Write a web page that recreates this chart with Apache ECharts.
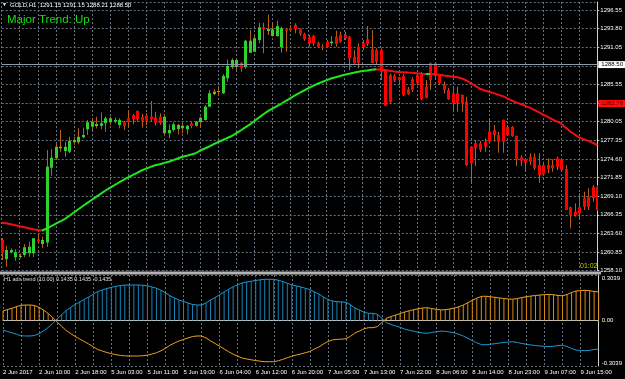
<!DOCTYPE html>
<html>
<head>
<meta charset="utf-8">
<script src="https://cdn.jsdelivr.net/npm/echarts@6/dist/echarts.min.js"></script>
<style>
  html, body { margin: 0; padding: 0; background: #000; }
  #main { width: 625px; height: 379px; }
</style>
</head>
<body>
<div id="main"></div>
<script>
// bottom axis labels, one every 8 bars
const timeLabels = ['2 Jun 2017', '2 Jun 10:00', '2 Jun 18:00', '5 Jun 03:00', '5 Jun 11:00', '5 Jun 19:00',
  '6 Jun 04:00', '6 Jun 12:00', '6 Jun 20:00', '7 Jun 05:00', '7 Jun 13:00', '7 Jun 22:00',
  '8 Jun 06:00', '8 Jun 14:00', '8 Jun 23:00', '9 Jun 07:00', '9 Jun 15:00'];

// price scale labels as printed by the terminal
const priceLabels = ['1258.10', '1260.85', '1263.60', '1266.35', '1269.10', '1271.85', '1274.60', '1277.35',
  '1280.05', '1282.80', '1285.55', '1288.30', '1291.05', '1293.80', '1296.55'];
const priceMin = 1258.10;
const priceTop = 1296.55;

// GOLD H1 candles
const opens = [
  1262.63, 1259.78, 1260.81, 1260.08, 1260.12, 1260.42, 1260.67, 1260.67, 1262.73, 1262.04,
  1262.26, 1273.29, 1274.68, 1276.15, 1275.75, 1275.65, 1277.04, 1277.04, 1277.78, 1278.96,
  1279.34, 1279.44, 1279.49, 1279.84, 1279.99, 1280.11, 1279.59, 1279.99, 1280.58, 1281.06,
  1281.65, 1280.73, 1280.96, 1280.81, 1280.73, 1280.81, 1278.37, 1278.37, 1278.85, 1278.99,
  1279.10, 1278.96, 1279.84, 1279.49, 1279.99, 1280.33, 1282.29, 1284.16, 1284.46, 1284.26,
  1286.48, 1288.10, 1288.19, 1288.78, 1288.10, 1290.25, 1290.40, 1292.13, 1294.00, 1293.45,
  1292.72, 1292.72, 1291.05, 1293.67, 1293.85, 1294.34, 1293.70, 1293.01, 1292.52, 1292.72,
  1291.73, 1291.14, 1291.88, 1291.64, 1292.61, 1292.86, 1292.86, 1292.61, 1289.66, 1291.14,
  1291.73, 1292.23, 1290.75, 1290.65, 1290.65, 1287.70, 1286.96, 1286.82, 1286.62, 1286.82,
  1284.85, 1286.33, 1286.96, 1287.07, 1285.24, 1288.69, 1288.69, 1286.82, 1285.49, 1284.75,
  1284.26, 1284.26, 1284.01, 1283.03, 1276.39, 1276.89, 1276.89, 1277.13, 1278.60, 1278.85,
  1278.11, 1280.33, 1279.34, 1279.34, 1277.97, 1274.82, 1274.53, 1274.91, 1274.82, 1273.69,
  1273.69, 1273.69, 1273.69, 1274.68, 1274.53, 1273.06, 1267.45, 1266.80, 1267.45, 1268.78,
  1269.01, 1270.49, 1270.49
];
const highs = [
  1262.92, 1261.74, 1261.40, 1261.26, 1260.67, 1262.04, 1262.38, 1262.95, 1263.62, 1263.11,
  1275.90, 1276.05, 1276.79, 1278.85, 1277.13, 1277.86, 1277.86, 1279.10, 1279.19, 1280.33,
  1280.67, 1280.81, 1281.46, 1280.81, 1280.81, 1280.67, 1280.58, 1280.18, 1281.80, 1281.21,
  1281.73, 1281.21, 1281.32, 1283.13, 1281.55, 1281.32, 1281.17, 1279.69, 1279.99, 1279.74,
  1279.69, 1279.59, 1280.08, 1280.18, 1280.81, 1282.54, 1284.75, 1284.90, 1285.05, 1287.11,
  1289.28, 1289.43, 1289.28, 1288.88, 1292.13, 1293.60, 1292.72, 1294.68, 1294.68, 1295.86,
  1294.59, 1294.97, 1294.09, 1293.85, 1294.34, 1294.59, 1293.85, 1293.20, 1292.86, 1292.86,
  1291.88, 1291.54, 1292.13, 1292.72, 1293.50, 1293.35, 1293.35, 1292.72, 1290.65, 1291.64,
  1292.13, 1294.19, 1293.60, 1290.90, 1290.90, 1287.85, 1287.21, 1287.11, 1286.71, 1287.11,
  1285.19, 1286.67, 1287.26, 1287.41, 1286.23, 1288.80, 1288.88, 1286.96, 1285.98, 1285.05,
  1285.24, 1285.24, 1284.10, 1283.76, 1276.45, 1277.38, 1277.23, 1277.63, 1280.33, 1279.59,
  1278.60, 1280.40, 1279.59, 1279.44, 1278.05, 1275.16, 1274.68, 1275.42, 1275.42, 1275.42,
  1274.18, 1274.68, 1274.53, 1274.91, 1274.72, 1273.69, 1267.54, 1268.04, 1269.52, 1269.75,
  1270.25, 1270.74, 1270.74
];
const lows = [
  1259.68, 1258.69, 1260.67, 1259.57, 1259.93, 1260.08, 1260.16, 1260.08, 1262.04, 1261.40,
  1261.60, 1272.11, 1274.57, 1275.65, 1274.91, 1275.42, 1276.64, 1276.74, 1277.63, 1278.11,
  1278.85, 1279.10, 1278.99, 1278.60, 1279.59, 1279.84, 1279.10, 1278.85, 1279.34, 1279.69,
  1280.08, 1279.19, 1279.59, 1280.08, 1279.49, 1279.59, 1278.01, 1277.63, 1278.60, 1278.22,
  1278.37, 1278.22, 1279.10, 1279.34, 1279.19, 1280.25, 1282.24, 1284.01, 1284.01, 1284.16,
  1285.98, 1287.80, 1287.70, 1287.45, 1287.90, 1290.21, 1290.36, 1291.64, 1290.16, 1292.86,
  1292.61, 1292.61, 1290.25, 1290.40, 1293.31, 1293.11, 1292.72, 1292.02, 1291.14, 1291.24,
  1291.05, 1290.65, 1291.05, 1291.24, 1291.14, 1291.73, 1292.13, 1287.70, 1288.44, 1287.95,
  1290.65, 1291.24, 1288.69, 1288.44, 1286.23, 1282.39, 1282.79, 1285.93, 1285.49, 1283.87,
  1284.01, 1284.46, 1285.49, 1283.28, 1283.53, 1284.75, 1286.52, 1285.49, 1284.26, 1283.28,
  1281.55, 1281.55, 1281.55, 1273.54, 1270.99, 1273.54, 1275.61, 1275.65, 1277.05, 1277.13,
  1275.50, 1275.50, 1277.97, 1277.86, 1273.54, 1273.54, 1272.80, 1273.69, 1272.95, 1271.08,
  1272.21, 1272.47, 1272.70, 1272.95, 1272.80, 1267.05, 1264.35, 1266.06, 1265.58, 1267.05,
  1267.05, 1268.28, 1266.90
];
const closes = [
  1260.71, 1261.15, 1261.15, 1260.81, 1260.27, 1261.55, 1261.64, 1262.88, 1262.38, 1262.63,
  1273.44, 1274.77, 1276.39, 1276.39, 1276.39, 1277.23, 1277.38, 1277.86, 1278.11, 1279.99,
  1280.08, 1279.74, 1279.84, 1280.58, 1280.58, 1280.33, 1280.33, 1279.49, 1279.99, 1280.47,
  1280.47, 1280.22, 1280.22, 1280.47, 1279.93, 1279.84, 1280.81, 1278.85, 1279.69, 1279.59,
  1279.49, 1279.49, 1279.49, 1280.08, 1280.67, 1282.29, 1284.26, 1284.53, 1284.60, 1286.82,
  1288.29, 1289.18, 1289.18, 1287.95, 1292.02, 1292.02, 1292.38, 1294.00, 1293.70, 1293.75,
  1293.70, 1294.19, 1293.85, 1293.45, 1293.60, 1293.70, 1293.01, 1292.23, 1291.64, 1291.64,
  1291.14, 1290.95, 1291.14, 1291.88, 1291.54, 1291.88, 1292.38, 1289.43, 1288.69, 1288.69,
  1291.05, 1291.54, 1288.69, 1288.93, 1287.45, 1282.44, 1282.94, 1286.12, 1286.23, 1284.01,
  1284.12, 1284.75, 1285.74, 1283.38, 1283.62, 1286.23, 1286.82, 1285.74, 1284.75, 1283.38,
  1282.79, 1282.88, 1282.79, 1273.69, 1273.94, 1276.15, 1275.90, 1276.39, 1277.13, 1278.11,
  1277.13, 1277.13, 1278.11, 1277.97, 1274.53, 1274.32, 1274.03, 1274.18, 1273.20, 1272.21,
  1272.32, 1273.10, 1273.20, 1273.44, 1272.95, 1267.05, 1266.32, 1266.32, 1266.57, 1267.54,
  1267.54, 1268.82, 1267.05
];

// trend moving average
const maValues = [
  1265.18, 1265.09, 1264.96, 1264.81, 1264.66, 1264.52, 1264.37, 1264.22, 1264.10, 1264.03,
  1264.35, 1264.69, 1265.03, 1265.39, 1265.73, 1266.20, 1266.68, 1267.17, 1267.64, 1268.11,
  1268.57, 1269.03, 1269.47, 1269.93, 1270.33, 1270.71, 1271.11, 1271.48, 1271.86, 1272.20,
  1272.54, 1272.88, 1273.16, 1273.41, 1273.65, 1273.81, 1273.98, 1274.16, 1274.40, 1274.65,
  1274.90, 1275.06, 1275.24, 1275.42, 1275.83, 1276.12, 1276.42, 1276.76, 1277.08, 1277.38,
  1277.67, 1277.97, 1278.38, 1278.81, 1279.25, 1279.69, 1280.18, 1280.68, 1281.18, 1281.64,
  1282.01, 1282.38, 1282.75, 1283.16, 1283.56, 1283.96, 1284.34, 1284.68, 1285.02, 1285.36,
  1285.67, 1285.93, 1286.20, 1286.45, 1286.64, 1286.82, 1287.00, 1287.14, 1287.29, 1287.45,
  1287.55, 1287.64, 1287.75, 1287.80, 1287.76, 1287.67, 1287.58, 1287.48, 1287.42, 1287.38,
  1287.33, 1287.29, 1287.21, 1287.14, 1287.11, 1287.13, 1287.07, 1287.00, 1286.89, 1286.80,
  1286.71, 1286.62, 1286.45, 1286.15, 1285.74, 1285.34, 1284.93, 1284.68, 1284.49, 1284.29,
  1284.07, 1283.85, 1283.54, 1283.22, 1282.92, 1282.67, 1282.42, 1282.16, 1281.83, 1281.49,
  1281.12, 1280.78, 1280.44, 1280.12, 1279.78, 1279.19, 1278.63, 1278.19, 1277.75, 1277.48,
  1277.24, 1276.96, 1276.64
];

// "adx trend" indicator (blue line); the orange line mirrors it
const adxTrend = [
  -0.0635, -0.0735, -0.0822, -0.0922, -0.1022, -0.1035, -0.1035, -0.1002, -0.0868, -0.0701,
  -0.0468, -0.0200, 0.0100, 0.0387, 0.0668, 0.0868, 0.1069, 0.1236, 0.1403, 0.1570,
  0.1757, 0.1937, 0.2037, 0.2137, 0.2211, 0.2284, 0.2331, 0.2364, 0.2371, 0.2371,
  0.2371, 0.2351, 0.2318, 0.2237, 0.2157, 0.2024, 0.1850, 0.1656, 0.1503, 0.1369,
  0.1269, 0.1169, 0.1069, 0.1035, 0.1035, 0.1169, 0.1369, 0.1536, 0.1717, 0.1904,
  0.2084, 0.2251, 0.2384, 0.2505, 0.2571, 0.2625, 0.2672, 0.2718, 0.2752, 0.2752,
  0.2752, 0.2692, 0.2598, 0.2485, 0.2384, 0.2304, 0.2237, 0.2151, 0.2070, 0.1904,
  0.1770, 0.1570, 0.1403, 0.1302, 0.1256, 0.1249, 0.1216, 0.1055, 0.0835, 0.0701,
  0.0548, 0.0481, 0.0481, 0.0401, 0.0134, -0.0154, -0.0267, -0.0367, -0.0454, -0.0568,
  -0.0648, -0.0721, -0.0781, -0.0835, -0.0855, -0.0801, -0.0748, -0.0708, -0.0721, -0.0768,
  -0.0822, -0.0915, -0.1035, -0.1189, -0.1349, -0.1489, -0.1610, -0.1623, -0.1583, -0.1550,
  -0.1503, -0.1469, -0.1436, -0.1423, -0.1469, -0.1536, -0.1590, -0.1636, -0.1670, -0.1703,
  -0.1723, -0.1743, -0.1723, -0.1670, -0.1650, -0.1737, -0.1870, -0.1970, -0.2004, -0.2017,
  -0.1990, -0.1937, -0.1904
];
const adxRange = 0.3039;

const bidPrice = 1288.50;
const levelPrice = 1282.76;

// colours
const gridColor = '#66727f';
const bullColor = '#2fd02f';
const bearColor = '#ff0000';
const wickColor = '#b5601c';
const maUpColor = '#1ee61e';
const maDownColor = '#ee1010';
const blueColor = '#1b98d6';
const blueHist = '#1682b8';
const orangeColor = '#efa01c';
const orangeHist = '#d68a12';
const font = 'Liberation Sans';

const barIndex = opens.map((_, i) => i);
const candleData = barIndex.map(i => [i, opens[i], closes[i], lows[i], highs[i]]);
const priceStep = (priceTop - priceMin) / (priceLabels.length - 1);

// green sections of the MA where it rises
function risingPieces(values) {
  const pieces = [];
  let start = null;
  for (let i = 1; i < values.length; i++) {
    const up = values[i] > values[i - 1];
    if (up && start === null) start = i - 1;
    if (!up && start !== null) {
      pieces.push({ gte: start, lte: i - 1, color: maUpColor });
      start = null;
    }
  }
  if (start !== null) pieces.push({ gte: start, lte: values.length - 1, color: maUpColor });
  return pieces;
}

function renderCandle(params, api) {
  const idx = api.value(0);
  const o = api.value(1), c = api.value(2), lo = api.value(3), hi = api.value(4);
  const top = api.coord([idx, Math.max(o, c)]);
  const bottom = api.coord([idx, Math.min(o, c)]);
  const high = api.coord([idx, hi]);
  const low = api.coord([idx, lo]);
  const cx = Math.round(top[0]);
  return {
    type: 'group',
    children: [
      {
        type: 'line',
        shape: { x1: cx + 0.5, y1: high[1], x2: cx + 0.5, y2: low[1] },
        style: { stroke: wickColor, lineWidth: 1 }
      },
      {
        type: 'rect',
        shape: { x: cx - 1, y: top[1], width: 3, height: Math.max(1, bottom[1] - top[1]) },
        style: { fill: c >= o ? bullColor : bearColor }
      }
    ]
  };
}

const chart = echarts.init(document.getElementById('main'));

const dotted = { color: gridColor, type: [2, 2], width: 1 };

chart.setOption({
  backgroundColor: '#000',
  animation: false,
  textStyle: { fontFamily: font },
  grid: [
    { left: 1.7, top: 2, width: 598.6, height: 268.7 },
    { left: 1.7, top: 275, width: 598.6, height: 91 }
  ],
  xAxis: [
    {
      type: 'category', gridIndex: 0, data: barIndex, boundaryGap: false,
      axisLine: { show: false }, axisTick: { show: false }, axisLabel: { show: false },
      splitLine: { show: true, interval: 3, lineStyle: dotted }
    },
    {
      type: 'category', gridIndex: 1, data: barIndex, boundaryGap: false,
      axisLine: { show: true, lineStyle: { color: '#c0c0c0' } },
      axisTick: { show: false },
      axisLabel: {
        interval: 7, color: '#ffffff', fontSize: 6, align: 'left', margin: 3,
        formatter: (v, i) => timeLabels[i / 8] || ''
      },
      splitLine: { show: true, interval: 3, lineStyle: dotted }
    }
  ],
  yAxis: [
    {
      type: 'value', gridIndex: 0, position: 'right',
      min: priceMin, max: priceMin + 268.7 / 6.78, interval: priceStep,
      axisLine: { show: true, lineStyle: { color: '#d0d0d0' } },
      axisTick: { show: true, length: 2, lineStyle: { color: '#d0d0d0' } },
      axisLabel: {
        color: '#ffffff', fontSize: 6, margin: 3, showMaxLabel: false,
        formatter: v => {
          const k = Math.round((v - priceMin) / priceStep);
          const label = priceLabels[k];
          if (!label) return '';
          // these two are covered by the price boxes
          if (Math.abs(v - bidPrice) < 1 || Math.abs(v - levelPrice) < 1) return '';
          return label;
        }
      },
      splitLine: { show: true, lineStyle: dotted }
    },
    {
      type: 'value', gridIndex: 1, position: 'right',
      min: -adxRange, max: adxRange, interval: adxRange,
      axisLine: { show: true, lineStyle: { color: '#d0d0d0' } },
      axisTick: { show: false },
      axisLabel: {
        color: '#ffffff', fontSize: 6, margin: 3,
        formatter: v => {
          if (Math.abs(v) < 1e-9) return '0.00';
          return v > 0 ? '{top|' + v.toFixed(4) + '}' : '{bot|' + v.toFixed(4) + '}';
        },
        rich: {
          top: { fontSize: 6, color: '#ffffff', padding: [6, 0, 0, 0] },
          bot: { fontSize: 6, color: '#ffffff', padding: [0, 0, 6, 0] }
        }
      },
      splitLine: { show: true, lineStyle: dotted }
    }
  ],
  visualMap: {
    type: 'piecewise', show: false, seriesIndex: 1, dimension: 0,
    pieces: risingPieces(maValues),
    outOfRange: { color: maDownColor }
  },
  series: [
    {
      name: 'GOLD,H1', type: 'custom', xAxisIndex: 0, yAxisIndex: 0,
      data: candleData, renderItem: renderCandle, clip: true,
      encode: { x: 0, y: [1, 2, 3, 4] }, z: 3,
      markLine: {
        silent: true, symbol: ['none', 'none'], animation: false,
        data: [
          {
            yAxis: bidPrice,
            lineStyle: { color: '#8e9aa6', type: 'solid', width: 1 },
            label: {
              position: 'end', distance: 1, formatter: p => p.value.toFixed(2),
              color: '#000', backgroundColor: '#ffffff', fontSize: 6, padding: [1, 3, 0, 3]
            }
          },
          {
            yAxis: levelPrice,
            lineStyle: { color: '#ff2020', type: [2, 2], width: 1 },
            label: {
              position: 'end', distance: 1, formatter: p => p.value.toFixed(2),
              color: '#500000', backgroundColor: '#ff1010', fontSize: 6, padding: [1, 3, 0, 3]
            }
          }
        ]
      }
    },
    {
      name: 'MA', type: 'line', xAxisIndex: 0, yAxisIndex: 0, data: maValues,
      showSymbol: false, symbol: 'none', lineStyle: { width: 2 }, z: 4
    },
    {
      name: 'trend histogram', type: 'bar', xAxisIndex: 1, yAxisIndex: 1,
      data: adxTrend.map(v => ({ value: Math.abs(v), itemStyle: { color: v >= 0 ? blueHist : orangeHist } })),
      barWidth: 1, z: 2
    },
    {
      name: 'adx +', type: 'line', xAxisIndex: 1, yAxisIndex: 1, data: adxTrend,
      showSymbol: false, symbol: 'none', lineStyle: { width: 1, color: blueColor }, z: 3
    },
    {
      name: 'adx -', type: 'line', xAxisIndex: 1, yAxisIndex: 1, data: adxTrend.map(v => -v),
      showSymbol: false, symbol: 'none', lineStyle: { width: 1, color: orangeColor }, z: 3
    }
  ],
  graphic: [
    { type: 'rect', shape: { x: 0, y: 271.5, width: 601, height: 3 }, style: { fill: '#b4b4b4' }, z: 10 },
    { type: 'text', x: 2, y: 5, style: { text: '▼', fill: '#ffffff', fontSize: 5, fontFamily: font, verticalAlign: 'middle' }, z: 10 },
    { type: 'text', x: 10, y: 5, style: { text: 'GOLD,H1  1291.15 1291.15 1288.21 1288.50', fill: '#ffffff', fontSize: 6, fontFamily: font, verticalAlign: 'middle' }, z: 10 },
    { type: 'text', x: 7, y: 20, style: { text: 'Major Trend: Up', fill: '#10e010', fontSize: 11.5, fontFamily: font, verticalAlign: 'middle' }, z: 10 },
    { type: 'text', x: 580, y: 266, style: { text: '01:02', fill: '#c4cc00', fontSize: 7, fontFamily: font, verticalAlign: 'middle' }, z: 10 },
    { type: 'text', x: 4, y: 279, style: { text: 'H1 adx trend (10.00) 0.1435 0.1435 -0.1435', fill: '#e0e0e0', fontSize: 5.5, fontFamily: font, verticalAlign: 'middle' }, z: 10 }
  ]
});
</script>
</body>
</html>
